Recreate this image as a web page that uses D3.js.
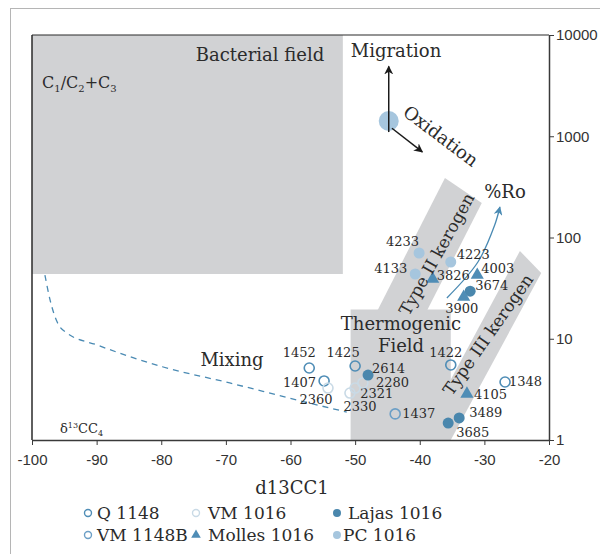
<!DOCTYPE html>
<html>
<head>
<meta charset="utf-8">
<script src="https://cdn.jsdelivr.net/npm/d3@7"></script>
<style>
  body { margin: 0; background: #fff; }
  .tick text { font-family: "Liberation Sans", Arial, sans-serif; font-size: 15px; fill: #333; }
  .ann { font-family: "DejaVu Serif", serif; fill: #2b2b2b; }
</style>
</head>
<body>
<div id="chart"></div>
<script>
// ticks
const xTicks = [-100, -90, -80, -70, -60, -50, -40, -30, -20];
const yTicks = [1, 10, 100, 1000, 10000];

// series: [d13C1, C1/(C2+C3), sample]
const q1148 = [[-57.1, 5.14, "1452"], [-54.8, 3.83, "1407"], [-50.0, 5.38, "1425"], [-35.2, 5.51, "1422"], [-26.8, 3.74, "1348"]];
const vm1148b = [[-43.8, 1.81, "1437"]];
const vm1016 = [[-54.2, 3.26, "2360"], [-50.8, 2.91, "2330"], [-50.0, 3.26, "2321"], [-48.8, 3.66, "2280"]];
const lajas1016 = [[-48.0, 4.38, "2614"], [-33.9, 1.65, "3489"], [-35.6, 1.47, "3685"], [-32.2, 29.5, "3674"]];
const molles1016 = [[-32.7, 2.85, "4105"], [-38.0, 38.9, "3826"], [-31.1, 42.6, "4003"], [-33.2, 25.8, "3900"]];
const pc1016 = [[-40.1, 70.3, "4233"], [-35.2, 57.3, "4223"], [-40.7, 43.6, "4133"]];

// fields (polygons in data units)
const bacterialField = [[-100, 10000], [-51.9, 10000], [-51.9, 43.6], [-100, 43.6]];
const thermogenicField = [[-50.7, 1], [-35.2, 1], [-35.2, 19.5], [-50.7, 19.5]];
const typeIIBand = [[-36.1, 387], [-30.4, 219], [-42.3, 7.07], [-48.0, 12.5]];
const typeIIIBand = [[-24.5, 73.6], [-21.2, 44.6], [-35.2, 1], [-38.4, 1.65]];
const mixingCurve = [[-98.0, 42.6], [-97.2, 24.1], [-96.1, 14.6], [-94.6, 11.4], [-89.9, 8.67],
                     [-79.7, 5.26], [-69.4, 3.66], [-59.0, 2.48], [-51.3, 1.89]];
const roCurve = [[-35.8, 25.3], [-31.0, 57.3], [-28.4, 133], [-27.6, 200]];
const migrationPoint = [-44.8, 1415];
const migrationArrow = [[-44.8, 1100], [-44.8, 4900]];
const oxidationArrow = [[-44.3, 1200], [-39.6, 700]];

const series = [
  { name: "Q 1148", data: q1148, shape: "circle", fill: "none", stroke: "#4f8db6" },
  { name: "VM 1148B", data: vm1148b, shape: "circle", fill: "none", stroke: "#6c9fc6" },
  { name: "VM 1016", data: vm1016, shape: "circle", fill: "none", stroke: "#c9dae6" },
  { name: "Lajas 1016", data: lajas1016, shape: "circle", fill: "#4a87ad", stroke: "none" },
  { name: "Molles 1016", data: molles1016, shape: "triangle", fill: "#4f8db6", stroke: "none" },
  { name: "PC 1016", data: pc1016, shape: "circle", fill: "#a6c6de", stroke: "none" }
];

// label placement relative to the point: [dx, dy, anchor]
const labelPos = {
  "1452": [-10, -11, "middle"], "1407": [-8, 6, "end"], "1425": [-12, -9, "middle"],
  "1422": [-5, -8, "middle"], "1348": [4, 4, "start"], "1437": [7, 4, "start"],
  "2360": [-12, 16, "middle"], "2330": [10, 18, "middle"], "2321": [5, 10, "start"],
  "2280": [13, 4, "start"], "2614": [4, -2, "start"], "3489": [10, -1, "start"],
  "3685": [8, 14, "start"], "3674": [5, -1, "start"], "4105": [7, 5, "start"],
  "3826": [4, 1, "start"], "4003": [4, -2, "start"], "3900": [-2, 16, "middle"],
  "4233": [0, -7, "end"], "4223": [6, -3, "start"], "4133": [-8, -1, "end"]
};

const svgWidth = 600;
const svgHeight = 554;
const margin = { top: 35, right: 51, bottom: 114, left: 32 };

const svg = d3.select("#chart").append("svg")
  .attr("width", svgWidth)
  .attr("height", svgHeight);

// outer frame
svg.append("rect")
  .attr("x", 10.5).attr("y", 8.5)
  .attr("width", 600).attr("height", 560)
  .attr("fill", "none").attr("stroke", "#b5b5b5");

const x = d3.scaleLinear().domain([-100, -20]).range([margin.left, svgWidth - margin.right]);
const y = d3.scaleLog().domain([1, 10000]).range([svgHeight - margin.bottom, margin.top]);

const defs = svg.append("defs");
function addArrow(id, color) {
  defs.append("marker")
    .attr("id", id)
    .attr("viewBox", "0 0 10 10")
    .attr("refX", 9).attr("refY", 5)
    .attr("markerWidth", 9).attr("markerHeight", 9)
    .attr("markerUnits", "userSpaceOnUse")
    .attr("orient", "auto")
    .append("path")
    .attr("d", "M0,0 L10,5 L0,10 L3,5 Z")
    .attr("fill", color);
}
addArrow("arrBlack", "#1a1a1a");
addArrow("arrBlue", "#4a8ab3");

const poly = pts => "M" + pts.map(p => `${x(p[0])},${y(p[1])}`).join("L") + "Z";
const fieldColor = "#d1d2d4";

[bacterialField, thermogenicField, typeIIBand, typeIIIBand].forEach(f => {
  svg.append("path").attr("d", poly(f)).attr("fill", fieldColor);
});

// axes
svg.append("g")
  .attr("transform", `translate(0,${y(1)})`)
  .call(d3.axisBottom(x).tickValues(xTicks).tickFormat(d => String(d)).tickSize(5).tickSizeOuter(0).tickPadding(9))
  .call(g => g.select(".domain").attr("stroke", "#3a3a3a").attr("stroke-width", 1.5))
  .call(g => g.selectAll(".tick line").attr("stroke", "#3a3a3a"));

svg.append("g")
  .attr("transform", `translate(${x(-20)},0)`)
  .call(d3.axisRight(y).tickValues(yTicks).tickFormat(d => String(d)).tickSize(5).tickSizeOuter(0).tickPadding(2))
  .call(g => g.select(".domain").attr("stroke", "#3a3a3a").attr("stroke-width", 1.5))
  .call(g => g.selectAll(".tick line").attr("stroke", "#3a3a3a"));

svg.append("line")
  .attr("x1", x(-100)).attr("x2", x(-20))
  .attr("y1", y(10000)).attr("y2", y(10000))
  .attr("stroke", "#2a2a2a").attr("stroke-width", 1.2);
svg.append("line")
  .attr("x1", x(-100)).attr("x2", x(-100))
  .attr("y1", y(10000)).attr("y2", y(1))
  .attr("stroke", "#2a2a2a").attr("stroke-width", 1.5);

// mixing curve
svg.append("path")
  .attr("d", d3.line().x(d => x(d[0])).y(d => y(d[1])).curve(d3.curveMonotoneX)(mixingCurve))
  .attr("fill", "none")
  .attr("stroke", "#4a8ab3")
  .attr("stroke-width", 1.3)
  .attr("stroke-dasharray", "6,5");

// %Ro arrow
svg.append("path")
  .attr("d", d3.line().x(d => x(d[0])).y(d => y(d[1])).curve(d3.curveCatmullRom)(roCurve))
  .attr("fill", "none")
  .attr("stroke", "#4a8ab3")
  .attr("stroke-width", 1.3)
  .attr("marker-end", "url(#arrBlue)");

// migration / oxidation
svg.append("circle")
  .attr("cx", x(migrationPoint[0])).attr("cy", y(migrationPoint[1]))
  .attr("r", 10).attr("fill", "#a6c6de");
[migrationArrow, oxidationArrow].forEach(a => {
  svg.append("line")
    .attr("x1", x(a[0][0])).attr("y1", y(a[0][1]))
    .attr("x2", x(a[1][0])).attr("y2", y(a[1][1]))
    .attr("stroke", "#1a1a1a").attr("stroke-width", 1.5)
    .attr("marker-end", "url(#arrBlack)");
});

// points
const tri = d3.symbol().type(d3.symbolTriangle).size(75);
series.forEach(s => {
  s.data.forEach(d => {
    if (s.shape === "triangle") {
      svg.append("path")
        .attr("d", tri())
        .attr("transform", `translate(${x(d[0])},${y(d[1])})`)
        .attr("fill", s.fill);
    } else {
      svg.append("circle")
        .attr("cx", x(d[0])).attr("cy", y(d[1]))
        .attr("r", s.fill === "none" ? 5 : 5.5)
        .attr("fill", s.fill)
        .attr("stroke", s.stroke)
        .attr("stroke-width", 1.6);
    }
    const lp = labelPos[d[2]];
    svg.append("text")
      .attr("class", "ann")
      .attr("x", x(d[0]) + lp[0]).attr("y", y(d[1]) + lp[1])
      .attr("text-anchor", lp[2])
      .style("font-size", "13px")
      .text(d[2]);
  });
});

// annotation text
function ann(txt, px, py, size, anchor, rot) {
  const t = svg.append("text")
    .attr("class", "ann")
    .attr("x", px).attr("y", py)
    .attr("text-anchor", anchor || "start")
    .style("font-size", size + "px")
    .text(txt);
  if (rot) t.attr("transform", `rotate(${rot},${px},${py})`);
  return t;
}
ann("Bacterial field", 260, 61, 18, "middle");
ann("Migration", 396, 57, 18, "middle");
ann("Oxidation", 437, 141, 18, "middle", 37);
ann("%Ro", 505, 198, 18, "middle");
ann("Type II kerogen", 442, 257, 17, "middle", -61);
ann("Type III kerogen", 493, 338, 17, "middle", -55);
ann("Thermogenic", 401, 330, 18, "middle");
ann("Field", 401, 352, 18, "middle");
ann("Mixing", 232, 366, 18, "middle");

const c123 = svg.append("text").attr("class", "ann").attr("x", 42).attr("y", 88).style("font-size", "16px");
c123.append("tspan").text("C");
c123.append("tspan").attr("dy", 4).style("font-size", "10px").text("1");
c123.append("tspan").attr("dy", -4).text("/C");
c123.append("tspan").attr("dy", 4).style("font-size", "10px").text("2");
c123.append("tspan").attr("dy", -4).text("+C");
c123.append("tspan").attr("dy", 4).style("font-size", "10px").text("3");

const dc = svg.append("text").attr("class", "ann").attr("x", 60).attr("y", 433).style("font-size", "13px");
dc.append("tspan").text("δ");
dc.append("tspan").attr("dy", -5).style("font-size", "8px").text("13");
dc.append("tspan").attr("dy", 5).text("CC");
dc.append("tspan").attr("dy", 3).style("font-size", "8px").text("4");

// axis title
ann("d13CC1", 292, 494, 18, "middle");

// legend
const legendCols = [88, 196, 337];
const legendRows = [519, 541];
const legendOrder = [["Q 1148", 0, 0, 9], ["VM 1148B", 0, 1, 9], ["VM 1016", 1, 0, 12],
                     ["Molles 1016", 1, 1, 12], ["Lajas 1016", 2, 0, 11], ["PC 1016", 2, 1, 6]];
legendOrder.forEach(([name, c, r, gap]) => {
  const s = series.find(e => e.name === name);
  const lx = legendCols[c], ly = legendRows[r];
  if (s.shape === "triangle") {
    svg.append("path").attr("d", d3.symbol().type(d3.symbolTriangle).size(40)())
      .attr("transform", `translate(${lx},${ly - 6})`).attr("fill", s.fill);
  } else {
    svg.append("circle").attr("cx", lx).attr("cy", ly - 6)
      .attr("r", s.fill === "none" ? 3.5 : 4)
      .attr("fill", s.fill).attr("stroke", s.stroke).attr("stroke-width", 1.4);
  }
  ann(name, lx + gap, ly, 17, "start");
});
</script>
</body>
</html>
